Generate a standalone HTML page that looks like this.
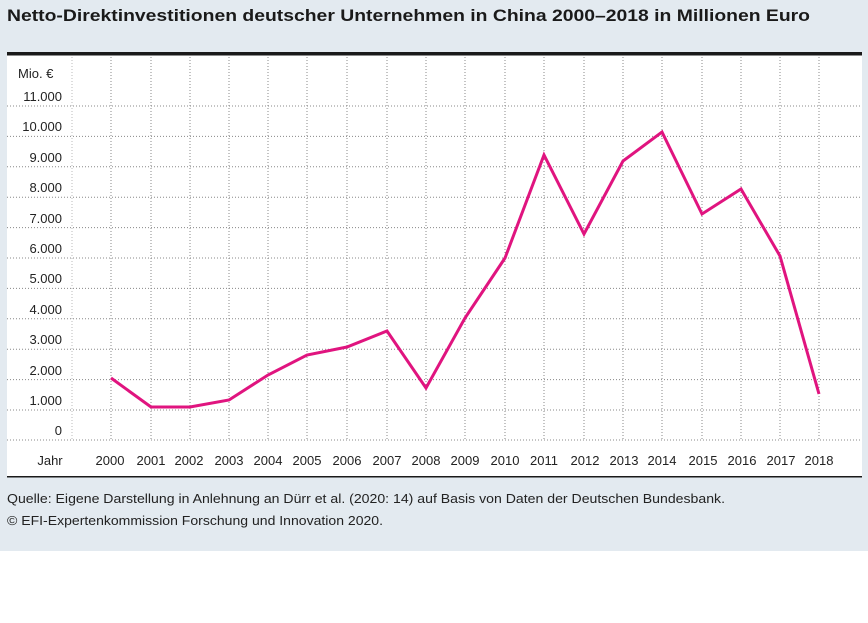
<!DOCTYPE html>
<html><head><meta charset="utf-8"><style>
html,body{margin:0;padding:0;background:#fff;}
</style></head><body>
<svg width="868" height="618" xmlns="http://www.w3.org/2000/svg" font-family="Liberation Sans, sans-serif">
<rect x="0" y="0" width="868" height="551" fill="#e3eaf0"/>
<text x="7" y="21" font-size="17" font-weight="bold" fill="#1a1a1a" textLength="803" lengthAdjust="spacingAndGlyphs">Netto-Direktinvestitionen deutscher Unternehmen in China 2000–2018 in Millionen Euro</text>
<rect x="7" y="54" width="855" height="423" fill="#fff"/>
<rect x="7" y="52" width="855" height="3.5" fill="#1a1a1a"/>
<rect x="7" y="476" width="855" height="1.5" fill="#1a1a1a"/>
<g stroke="#888" stroke-width="1" stroke-dasharray="1,2" fill="none">
<line x1="72" y1="57" x2="72" y2="440" stroke="#bbb"/>
<line x1="111" y1="57" x2="111" y2="440"/><line x1="151" y1="57" x2="151" y2="440"/>
<line x1="190" y1="57" x2="190" y2="440"/><line x1="229" y1="57" x2="229" y2="440"/>
<line x1="268" y1="57" x2="268" y2="440"/><line x1="307" y1="57" x2="307" y2="440"/>
<line x1="347" y1="57" x2="347" y2="440"/><line x1="387" y1="57" x2="387" y2="440"/>
<line x1="426" y1="57" x2="426" y2="440"/><line x1="465" y1="57" x2="465" y2="440"/>
<line x1="505" y1="57" x2="505" y2="440"/><line x1="544" y1="57" x2="544" y2="440"/>
<line x1="584" y1="57" x2="584" y2="440"/><line x1="623" y1="57" x2="623" y2="440"/>
<line x1="662" y1="57" x2="662" y2="440"/><line x1="702" y1="57" x2="702" y2="440"/>
<line x1="741" y1="57" x2="741" y2="440"/><line x1="780" y1="57" x2="780" y2="440"/>
<line x1="819" y1="57" x2="819" y2="440"/>
<line x1="7" y1="106" x2="862" y2="106"/><line x1="7" y1="136.4" x2="862" y2="136.4"/>
<line x1="7" y1="166.8" x2="862" y2="166.8"/><line x1="7" y1="197.2" x2="862" y2="197.2"/>
<line x1="7" y1="227.6" x2="862" y2="227.6"/><line x1="7" y1="258" x2="862" y2="258"/>
<line x1="7" y1="288.4" x2="862" y2="288.4"/><line x1="7" y1="318.8" x2="862" y2="318.8"/>
<line x1="7" y1="349.2" x2="862" y2="349.2"/><line x1="7" y1="379.6" x2="862" y2="379.6"/>
<line x1="7" y1="410" x2="862" y2="410"/><line x1="7" y1="440" x2="862" y2="440"/>
</g>
<g font-size="13" fill="#222" text-anchor="end">
<text x="57" y="78" text-anchor="start" x2="0" dx="-39">Mio. €</text>
<text x="62" y="101">11.000</text><text x="62" y="131">10.000</text><text x="62" y="162">9.000</text>
<text x="62" y="192">8.000</text><text x="62" y="223">7.000</text><text x="62" y="253">6.000</text>
<text x="62" y="283">5.000</text><text x="62" y="314">4.000</text><text x="62" y="344">3.000</text>
<text x="62" y="375">2.000</text><text x="62" y="405">1.000</text><text x="62" y="435">0</text>
</g>
<g font-size="13" fill="#222" text-anchor="middle">
<text x="50" y="465">Jahr</text>
<text x="110" y="465">2000</text><text x="151" y="465">2001</text><text x="189" y="465">2002</text>
<text x="229" y="465">2003</text><text x="268" y="465">2004</text><text x="307" y="465">2005</text>
<text x="347" y="465">2006</text><text x="387" y="465">2007</text><text x="426" y="465">2008</text>
<text x="465" y="465">2009</text><text x="505" y="465">2010</text><text x="544" y="465">2011</text>
<text x="585" y="465">2012</text><text x="624" y="465">2013</text><text x="662" y="465">2014</text>
<text x="703" y="465">2015</text><text x="742" y="465">2016</text><text x="781" y="465">2017</text>
<text x="819" y="465">2018</text>
</g>
<polyline fill="none" stroke="#e0147f" stroke-width="3" stroke-linejoin="miter"
points="111,378 151,407 190,407 229,400 268,375 307,355 347,347 387,331 426,388 465,318 505,258 544,155 584,234 623,161 662,132 702,214 741,189 780,256 819,394"/>
<g font-size="13" fill="#222">
<text x="7" y="503" textLength="718" lengthAdjust="spacingAndGlyphs">Quelle: Eigene Darstellung in Anlehnung an Dürr et al. (2020: 14) auf Basis von Daten der Deutschen Bundesbank.</text>
<text x="7" y="525" textLength="376" lengthAdjust="spacingAndGlyphs">© EFI-Expertenkommission Forschung und Innovation 2020.</text>
</g>
</svg>
</body></html>
